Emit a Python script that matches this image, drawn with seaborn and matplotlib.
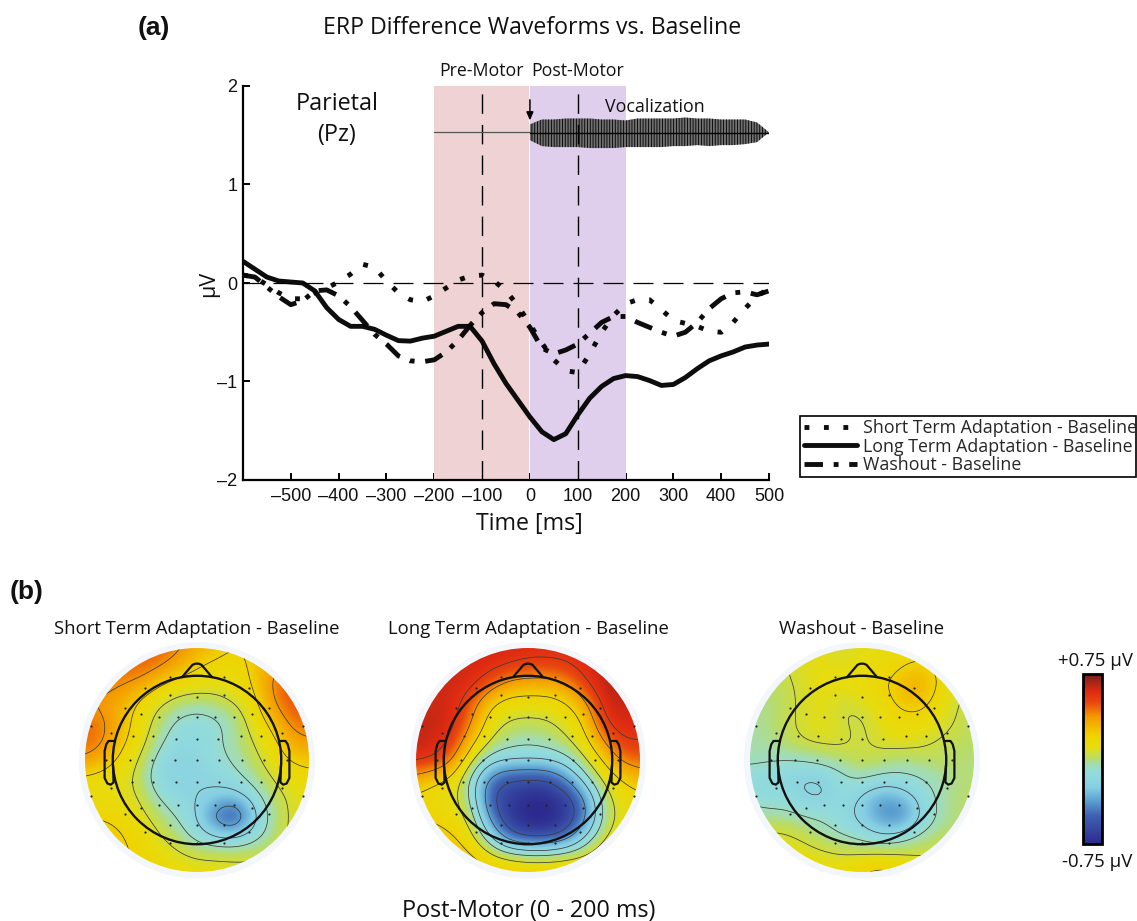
import numpy as np
import pandas as pd
import matplotlib
matplotlib.use("Agg")
import matplotlib.pyplot as plt
import seaborn as sns
from matplotlib.colors import LinearSegmentedColormap, Normalize
from matplotlib.cm import ScalarMappable
from matplotlib.patches import Circle

W, H = 1137, 921

# ERP difference waveforms (uV), read every 25 ms
time_ms = [-600, -575, -550, -525, -500, -475, -450, -425, -400, -375, -350, -325, -300, -275, -250,
           -225, -200, -175, -150, -125, -100, -75, -50, -25, 0, 25, 50, 75, 100, 125, 150, 175, 200,
           225, 250, 275, 300, 325, 350, 375, 400, 425, 450, 475, 500]
short_term = [.08, .06, -.02, -.10, -.16, -.16, -.10, -.05, .01, .09, .19, .16, .02, -.10, -.17,
              -.19, -.13, -.05, .03, .07, .08, .02, -.08, -.23, -.42, -.61, -.78, -.89, -.91, -.72, -.50, -.33, -.21,
              -.17, -.17, -.27, -.38, -.41, -.44, -.49, -.50, -.40, -.26, -.13, -.06]
long_term = [.22, .14, .06, .02, .01, 0, -.08, -.25, -.37, -.44, -.44, -.47, -.53, -.585, -.59,
             -.56, -.54, -.49, -.44, -.44, -.59, -.82, -1.02, -1.19, -1.36, -1.51, -1.59, -1.53, -1.34, -1.17, -1.05, -.97, -.94,
             -.95, -.99, -1.04, -1.03, -.96, -.87, -.79, -.74, -.70, -.65, -.63, -.62]
washout = [.08, .06, -.04, -.14, -.22, -.18, -.08, -.07, -.13, -.24, -.38, -.52, -.62, -.74, -.79,
           -.80, -.78, -.70, -.58, -.43, -.30, -.21, -.22, -.30, -.45, -.66, -.72, -.68, -.62, -.51, -.40, -.34, -.34,
           -.40, -.45, -.50, -.54, -.50, -.40, -.26, -.16, -.10, -.09, -.12, -.08]
series_names = ["Short Term Adaptation - Baseline", "Long Term Adaptation - Baseline", "Washout - Baseline"]

# vocalization envelope
voc_time = [0, 25, 50, 75, 100, 125, 150, 175, 200, 225, 250, 275, 300, 325, 350, 375, 400, 425, 450, 475, 500]
voc_top = [1.61, 1.66, 1.66, 1.67, 1.67, 1.67, 1.66, 1.66, 1.65, 1.67, 1.67, 1.67, 1.67, 1.68, 1.67, 1.67, 1.66, 1.66, 1.66, 1.63, 1.53]
voc_bottom = [1.45, 1.39, 1.38, 1.38, 1.38, 1.37, 1.37, 1.37, 1.38, 1.38, 1.38, 1.38, 1.39, 1.39, 1.4, 1.39, 1.4, 1.4, 1.41, 1.43, 1.53]

x_ticks = [-600, -500, -400, -300, -200, -100, 0, 100, 200, 300, 400, 500]
x_labels = ["", "–500", "–400", "–300", "–200", "–100", "0", "100", "200", "300", "400", "500"]
y_ticks = [-2, -1, 0, 1, 2]
y_labels = ["–2", "–1", "0", "1", "2"]

# scalp maps: values read on a coarse 13 x 13 grid over the disc (top row first)
map_short = [
    [.38, .38, .42, .46, .46, .42, .32, .25, .20, .22, .30, .38, .38],
    [.42, .42, .45, .48, .42, .32, .20, .17, .15, .22, .36, .44, .44],
    [.42, .42, .40, .34, .20, .12, .12, .10, .12, .20, .42, .50, .50],
    [.36, .36, .30, .15, .05, .00, -.04, .00, .05, .13, .38, .50, .48],
    [.44, .42, .28, .12, .00, -.12, -.14, -.12, -.04, .10, .24, .44, .44],
    [.46, .42, .24, .10, -.05, -.16, -.16, -.10, -.03, .05, .14, .34, .38],
    [.38, .30, .15, .04, -.14, -.22, -.17, -.12, -.06, .02, .10, .22, .24],
    [.15, .12, .10, .00, -.19, -.22, -.19, -.17, -.12, -.03, .05, .12, .15],
    [.12, .10, .10, .05, -.09, -.17, -.19, -.24, -.27, -.14, .00, .07, .10],
    [.20, .20, .16, .08, .00, -.09, -.20, -.50, -.66, -.26, -.03, .07, .12],
    [.25, .25, .22, .15, .05, -.02, -.14, -.22, -.24, -.14, -.02, .08, .10],
    [.25, .25, .22, .18, .12, .07, .03, .03, .03, .03, .05, .08, .10],
    [.25, .25, .22, .20, .17, .13, .12, .12, .10, .10, .10, .10, .10]]
map_long = [
    [.62, .62, .62, .62, .62, .62, .60, .60, .60, .62, .64, .64, .64],
    [.62, .62, .62, .62, .60, .56, .52, .52, .54, .60, .65, .65, .65],
    [.62, .62, .62, .60, .46, .32, .30, .30, .35, .54, .65, .68, .65],
    [.62, .62, .62, .46, .20, .12, .12, .12, .17, .32, .62, .64, .62],
    [.64, .64, .60, .40, .10, .03, .02, .03, .08, .20, .56, .62, .60],
    [.64, .62, .55, .25, .03, -.03, -.06, -.03, .03, .13, .40, .56, .55],
    [.60, .58, .42, .05, -.14, -.17, -.17, -.17, -.12, .03, .20, .44, .46],
    [.32, .22, .15, -.12, -.46, -.58, -.58, -.58, -.40, -.12, .08, .20, .30],
    [.16, .12, .10, -.08, -.58, -.66, -.74, -.74, -.66, -.40, .00, .12, .16],
    [.18, .18, .12, .02, -.46, -.70, -.78, -.78, -.70, -.48, -.03, .10, .12],
    [.26, .26, .22, .10, -.22, -.56, -.66, -.66, -.56, -.22, .03, .14, .15],
    [.32, .32, .28, .22, .08, -.02, -.05, -.05, .00, .05, .15, .22, .22],
    [.32, .32, .32, .30, .25, .25, .22, .22, .22, .22, .22, .25, .25]]
map_washout = [
    [.02, .02, .05, .08, .10, .05, .10, .10, .12, .15, .12, .08, .05],
    [.02, .02, .05, .10, .10, .08, .12, .13, .18, .24, .18, .08, .05],
    [.00, .00, .03, .08, .12, .12, .14, .18, .28, .34, .22, .06, .03],
    [-.03, -.02, .02, .08, .10, .03, .08, .12, .24, .28, .14, .04, .02],
    [-.03, -.02, .03, .08, .10, .05, .02, .10, .14, .14, .10, .04, .02],
    [-.04, -.03, .02, .07, .08, .08, .03, .08, .10, .08, .04, .02, .00],
    [-.05, -.06, -.08, -.06, -.03, .00, .05, .02, -.02, .00, .02, .00, -.02],
    [-.14, -.16, -.18, -.24, -.21, -.11, -.06, -.11, -.11, -.09, -.05, -.02, .00],
    [-.11, -.16, -.14, -.21, -.24, -.11, -.23, -.36, -.30, -.17, -.06, .00, .00],
    [-.02, -.03, -.04, -.08, -.08, -.17, -.25, -.42, -.50, -.23, -.07, -.01, .00],
    [.05, .08, .07, .02, -.05, -.08, -.13, -.20, -.15, -.06, .00, .02, .02],
    [.10, .12, .12, .10, .08, .05, .05, .06, .05, .05, .05, .03, .02],
    [.12, .12, .12, .12, .12, .14, .22, .28, .22, .12, .08, .05, .05]]
map_titles = series_names
map_centers = [197, 528, 862]

# electrodes and head outline, in disc radius units
elec_x = [-.24, .24, -.46, .46, -.24, .24, 0, -.64, .64, -.5, .49, -.34, -.17, 0, .16, .33, -.95, .95, -.77, .76,
          -.57, -.39, .57, -.19, 0, .19, .39, -.81, -.6, -.4, -.2, 0, .2, .4, .6, .8, -.58, -.39, -.19, 0, .2, .39, .57,
          -.77, .76, -.95, .95, -.34, -.17, 0, .16, .33, -.5, .49, -.64, .64, -.24, 0, .24, -.46, .46, -.24, 0, .24]
elec_y = [.74, .74, .64, .64, .58, .58, .56, .46, .46, .41, .41, .38, .38, .38, .38, .38, .3, .3, .24, .24,
          .21, .21, .21, .19, .19, .19, .21, 0, 0, 0, 0, 0, 0, 0, 0, 0, -.2, -.2, -.2, -.2, -.2, -.2, -.2,
          -.25, -.25, -.32, -.32, -.4, -.4, -.4, -.4, -.4, -.43, -.43, -.48, -.48, -.58, -.58, -.58, -.64, -.64, -.74, -.74, -.74]
nose_x = [-.134, -.04, -.015, .015, .04, .134]
nose_y = [.74, .85, .86, .86, .85, .74]
ear_x = [-.745, -.79, -.81, -.825, -.825, -.80, -.77, -.745, -.75]
ear_y = [.17, .17, .14, .08, -.16, -.21, -.22, -.2, -.05]

# colour scale anchors
scale_levels = [-.75, -.5, -.375, -.25, -.12, -.04, 0, .1, .2, .375, .5, .6, .75]
scale_colors = ["#2c2a8e", "#3f62b3", "#5a9ed0", "#86cfe4", "#93dcdc", "#a6dcaa", "#b8dc6a", "#e6dd10", "#f0d400",
                "#f59a00", "#e8480f", "#df2a12", "#76201c"]
contour_levels = [-.55, -.38, -.2, -.08, .05, .2, .38, .55]

sns.set_theme(style="white", rc={"axes.facecolor": "none"})
plt.rcParams["font.family"] = ["Liberation Sans", "DejaVu Sans"]
plt.rcParams["hatch.linewidth"] = 0.6
MYRIAD = ["Open Sans", "DejaVu Sans"]


def px_axes(x0, y0, x1, y1):
    return fig.add_axes([x0 / W, 1 - y1 / H, (x1 - x0) / W, (y1 - y0) / H])


def px_text(x, y, s, size=12, family=MYRIAD, **kw):
    kw.setdefault("ha", "center")
    fig.text(x / W, 1 - (y + 1.5) / H, s, fontsize=size, family=family, va="center", color="#111111", **kw)


def soften(values, factor=8, passes=3):
    # blocky upsample and box blur so the surface draws without visible cells
    arr = np.kron(np.array(values, dtype=float), np.ones((factor, factor)))
    kernel = np.ones(factor + 1) / (factor + 1)
    pad = factor
    for _ in range(passes):
        arr = np.pad(arr, pad, mode="edge")
        arr = np.apply_along_axis(np.convolve, 0, arr, kernel, mode="same")
        arr = np.apply_along_axis(np.convolve, 1, arr, kernel, mode="same")
        arr = arr[pad:-pad, pad:-pad]
    return arr


fig = plt.figure(figsize=(W / 100, H / 100), dpi=100)

# panel (a)
ax = px_axes(243, 86, 769, 480)
ax.axvspan(-200, -1, color="#efd3d4", lw=0)
ax.axvspan(1, 200, color="#e0cfec", lw=0)
ax.axhline(0, color="black", lw=0.9, dashes=(16, 8))
for xv in [-100, 100]:
    ax.axvline(xv, color="black", lw=1.0, dashes=(14, 8))

df = pd.DataFrame({"time": time_ms * 3,
                   "uV": short_term + long_term + washout,
                   "series": np.repeat(series_names, len(time_ms))})
n_before = len(ax.lines)
sns.lineplot(data=df, x="time", y="uV", hue="series", style="series",
             palette=["black", "black", "black"],
             dashes={series_names[0]: (1, 3.0), series_names[1]: "", series_names[2]: (3.8, 2.2, 1.0, 2.2)},
             linewidth=3.5, legend=False, ax=ax, estimator=None, sort=False)
erp_lines = ax.lines[n_before:n_before + 3]
for ln in erp_lines:
    ln.set_alpha(0.95)
    ln.set_dash_capstyle("butt")
    ln.set_solid_joinstyle("round")
    ln.set_dash_joinstyle("round")

ax.plot([-200, 0], [1.53, 1.53], color="#555555", lw=0.9)
ax.fill_between(voc_time, voc_bottom, voc_top, facecolor="#707070", edgecolor="black", hatch="||||||", lw=0)
ax.plot(voc_time, [1.525] * len(voc_time), color="black", lw=1.0)
ax.annotate("", xy=(0, 1.65), xytext=(0, 1.86),
            arrowprops=dict(arrowstyle="-|>,head_width=0.17,head_length=0.4", color="black", lw=1.1, shrinkA=0, shrinkB=0))

ax.set_xlim(-600, 500)
ax.set_ylim(-2, 2)
ax.set_xticks(x_ticks)
ax.set_xticklabels(x_labels, fontsize=13)
ax.set_yticks(y_ticks)
ax.set_yticklabels(y_labels, fontsize=13)
ax.set_xlabel("")
ax.set_ylabel("")
ax.tick_params(axis="both", direction="in", length=5, width=1.4, color="black", pad=6, labelcolor="#111111",
               bottom=True, left=True)
ax.tick_params(axis="y", pad=4)
sns.despine(ax=ax)
for side in ["left", "bottom"]:
    ax.spines[side].set_linewidth(1.6)
    ax.spines[side].set_color("black")

leg = ax.legend(handles=erp_lines, labels=series_names, loc="center",
                bbox_to_anchor=(800 / W, 1 - 477 / H, 336 / W, 61 / H), bbox_transform=fig.transFigure,
                mode="expand", frameon=True, fancybox=False, edgecolor="black", framealpha=1,
                prop={"family": MYRIAD, "size": 12.8}, labelspacing=0.02, handlelength=3.0, handletextpad=0.35,
                borderpad=0.2, borderaxespad=0)
leg.get_frame().set_linewidth(1.2)

px_text(154, 27, "(a)", size=19, family=["Liberation Sans"], fontweight="bold")
px_text(532, 26, "ERP Difference Waveforms vs. Baseline", size=16.7)
px_text(481, 70, "Pre-Motor", size=12.8)
px_text(578, 70, "Post-Motor", size=12.8)
px_text(337, 102, "Parietal", size=16.8)
px_text(337, 133, "(Pz)", size=16.8)
px_text(655, 105, "Vocalization", size=12.8)
px_text(209, 282, "µV", size=15.5, rotation=90)
px_text(529, 522, "Time [ms]", size=16.7)

# panel (b)
px_text(27, 591, "(b)", size=19, family=["Liberation Sans"], fontweight="bold")
cmap = LinearSegmentedColormap.from_list(
    "erp", [((v + .75) / 1.5, c) for v, c in zip(scale_levels, scale_colors)], N=256)
norm = Normalize(-.75, .75)

for cx, title, values in zip(map_centers, map_titles, [map_short, map_long, map_washout]):
    a = px_axes(cx - 126, 634, cx + 126, 886)
    a.set_aspect("equal")
    a.axis("off")
    a.add_patch(Circle((0, -0.003), 1.055, color="#f3f6fb", lw=0))
    disc = Circle((0, 0), 1.0, transform=a.transData)
    surface = soften(values)
    img = a.imshow(surface, cmap=cmap, norm=norm, extent=(-13 / 12, 13 / 12, -13 / 12, 13 / 12),
                   interpolation="bilinear", origin="upper", zorder=2)
    img.set_clip_path(disc)
    fine = np.linspace(-13 / 12, 13 / 12, surface.shape[0])
    cs = a.contour(fine, fine[::-1], surface, levels=contour_levels,
                   colors="#3a3a3a", linewidths=0.55, linestyles="solid", zorder=3)
    cs.set_clip_path(disc)
    a.scatter(elec_x, elec_y, s=2.5, color="#222222", lw=0, zorder=4)
    a.add_patch(Circle((0, 0), .752, fill=False, ec="#111111", lw=1.7, zorder=5))
    a.plot(nose_x, nose_y, color="#111111", lw=1.6, zorder=5)
    a.plot(ear_x, ear_y, color="#111111", lw=1.6, zorder=5)
    a.plot(-np.array(ear_x), ear_y, color="#111111", lw=1.6, zorder=5)
    a.set_xlim(-1.125, 1.125)
    a.set_ylim(-1.125, 1.125)
    px_text(cx, 628, title, size=13.3)

px_text(529, 909, "Post-Motor (0 - 200 ms)", size=16.8)

cax = px_axes(1083, 674, 1102, 844)
cb = fig.colorbar(ScalarMappable(norm=norm, cmap=cmap), cax=cax, ticks=[-.375, 0, .375])
cb.ax.tick_params(length=2, width=0.8, direction="in", left=True, right=True, labelright=False, color="black")
cb.outline.set_linewidth(2.0)
cb.outline.set_edgecolor("black")
px_text(1095, 660, "+0.75 µV", size=13.4)
px_text(1097, 860, "-0.75 µV", size=13.4)

fig.savefig("out.png", dpi=100)
